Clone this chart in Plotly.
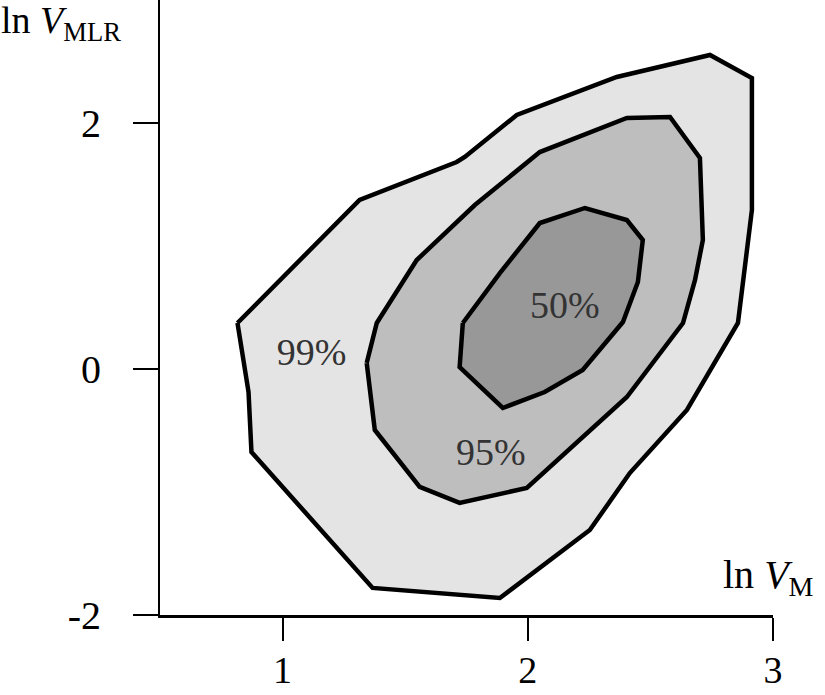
import plotly.graph_objects as go

# contour polygons (ln V_M, ln V_MLR)
c99_x = [0.816, 0.861, 0.873, 1.367, 1.886, 2.253, 2.416, 2.649, 2.857, 2.878,
         2.914, 2.914, 2.743, 2.363, 1.955, 1.743, 1.710, 1.314, 0.816]
c99_y = [0.374, -0.187, -0.675, -1.780, -1.862, -1.309, -0.846, -0.333, 0.374, 0.724,
         1.293, 2.366, 2.553, 2.374, 2.065, 1.724, 1.683, 1.374, 0.374]

c95_x = [1.343, 1.376, 1.559, 1.722, 1.996, 2.212, 2.404, 2.633, 2.682, 2.714,
         2.702, 2.580, 2.404, 2.049, 1.784, 1.547, 1.384, 1.343]
c95_y = [0.049, -0.496, -0.959, -1.089, -0.967, -0.577, -0.228, 0.374, 0.724, 1.049,
         1.715, 2.049, 2.041, 1.764, 1.333, 0.886, 0.374, 0.049]

c50_x = [1.735, 1.722, 1.898, 2.069, 2.224, 2.388, 2.449, 2.469, 2.404, 2.233,
         2.049, 1.886, 1.735]
c50_y = [0.374, 0.016, -0.317, -0.187, -0.008, 0.382, 0.707, 1.049, 1.211, 1.309,
         1.187, 0.780, 0.374]

levels = ["99%", "95%", "50%"]
level_x = [1.118, 1.849, 2.151]
level_y = [0.106, -0.70, 0.49]

x_ticks = [1, 2, 3]
y_ticks = [-2, 0, 2]
y_tick_text = ["-2", "0", "2"]

FONT = "Liberation Serif"

fig = go.Figure()
for xs, ys, col in [(c99_x, c99_y, "#e4e4e4"),
                    (c95_x, c95_y, "#bebebe"),
                    (c50_x, c50_y, "#989898")]:
    fig.add_trace(go.Scatter(x=xs, y=ys, mode="lines", fill="toself",
                             fillcolor=col, line=dict(color="black", width=4.5),
                             hoverinfo="skip"))

fig.add_trace(go.Scatter(x=level_x, y=level_y, mode="text", text=levels,
                         textfont=dict(family=FONT, size=38, color="#333333"),
                         hoverinfo="skip"))

fig.update_layout(
    width=825, height=695,
    margin=dict(l=160, r=52, t=0, b=80),
    paper_bgcolor="white", plot_bgcolor="white",
    showlegend=False,
    font=dict(family=FONT, size=40, color="black"),
)
fig.update_xaxes(range=[0.5, 3.0], showgrid=False, zeroline=False, automargin=False,
                 showline=True, linecolor="black", linewidth=3,
                 ticks="outside", ticklen=23, tickwidth=2, tickcolor="black",
                 tickvals=x_ticks, tickfont=dict(size=38), ticklabelstandoff=-4)
fig.update_yaxes(range=[-2, 3], showgrid=False, zeroline=False, automargin=False,
                 showline=True, linecolor="black", linewidth=2,
                 ticks="outside", ticklen=25, tickwidth=2, tickcolor="black",
                 tickvals=y_ticks, ticktext=y_tick_text, ticklabelstandoff=24)

fig.add_annotation(xref="paper", yref="paper", x=-0.262, y=0.962,
                   xanchor="left", yanchor="middle", showarrow=False,
                   text="ln <i>V</i><sub>MLR</sub>", font=dict(size=38))
fig.add_annotation(xref="paper", yref="paper", x=0.915, y=0.062,
                   xanchor="left", yanchor="middle", showarrow=False,
                   text="ln <i>V</i><sub>M</sub>", font=dict(size=40))

# the page body has a default 8px margin; drop it so the figure fills the window
fig.write_html("out.html", config={"displayModeBar": False},
               post_script="document.body.style.margin='0';")
